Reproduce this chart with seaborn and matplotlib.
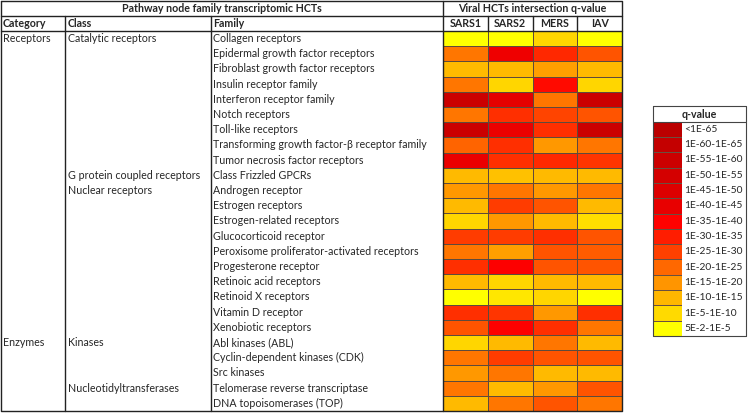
import matplotlib
matplotlib.use("Agg")
import matplotlib.pyplot as plt
import matplotlib.transforms as mtransforms
from matplotlib.colors import LinearSegmentedColormap
import seaborn as sns
import numpy as np
import pandas as pd

# table rows
families = [
    "Collagen receptors", "Epidermal growth factor receptors", "Fibroblast growth factor receptors",
    "Insulin receptor family", "Interferon receptor family", "Notch receptors", "Toll-like receptors",
    "Transforming growth factor-β receptor family", "Tumor necrosis factor receptors",
    "Class Frizzled GPCRs", "Androgen receptor", "Estrogen receptors", "Estrogen-related receptors",
    "Glucocorticoid receptor", "Peroxisome proliferator-activated receptors", "Progesterone receptor",
    "Retinoic acid receptors", "Retinoid X receptors", "Vitamin D receptor", "Xenobiotic receptors",
    "Abl kinases (ABL)", "Cyclin-dependent kinases (CDK)", "Src kinases",
    "Telomerase reverse transcriptase", "DNA topoisomerases (TOP)",
]
classes = (["Catalytic receptors"] * 9 + ["G protein coupled receptors"] + ["Nuclear receptors"] * 10
           + ["Kinases"] * 3 + ["Nucleotidyltransferases"] * 2)
categories = ["Receptors"] * 20 + ["Enzymes"] * 5

viruses = ["SARS1", "SARS2", "MERS", "IAV"]
# approx -log10(q)
sars1 = [3, 21, 12, 21, 58, 21, 58, 23, 42, 12, 17, 12, 8, 28, 21, 30, 12, 3, 30, 25, 8, 21, 17, 21, 12]
sars2 = [3, 41, 12, 8, 44, 30, 42, 30, 30, 11, 21, 28, 17, 28, 16, 38, 8, 6, 29, 38, 12, 28, 21, 12, 21]
mers = [8, 31, 16, 36, 21, 27, 30, 17, 31, 12, 17, 25, 12, 30, 25, 25, 12, 8, 17, 30, 21, 25, 12, 17, 25]
iav = [3, 25, 12, 8, 58, 25, 58, 21, 29, 12, 21, 12, 7, 25, 24, 25, 12, 3, 30, 21, 12, 25, 12, 25, 21]

legend_labels = ["<1E-65", "1E-60-1E-65", "1E-55-1E-60", "1E-50-1E-55", "1E-45-1E-50", "1E-40-1E-45",
                 "1E-35-1E-40", "1E-30-1E-35", "1E-25-1E-30", "1E-20-1E-25", "1E-15-1E-20",
                 "1E-10-1E-15", "1E-5-1E-10", "5E-2-1E-5"]
legend_mid = [67.5, 62.5, 57.5, 52.5, 47.5, 42.5, 37.5, 32.5, 27.5, 22.5, 17.5, 12.5, 7.5, 3]
legend_colors = ["#BB0000", "#C40000", "#CC0000", "#D40000", "#DD0000", "#E80000", "#FF0000",
                 "#FF1E00", "#FF4000", "#FF6800", "#FF9400", "#FFB600", "#FFD800", "#FFFF00"]

sns.set_theme(style="white")
plt.rcParams["font.family"] = ["Lato", "DejaVu Sans"]

vmin, vmax = min(legend_mid), max(legend_mid)
stops = [((m - vmin) / (vmax - vmin), c) for m, c in zip(legend_mid, legend_colors)][::-1]
cmap = LinearSegmentedColormap.from_list("qval", stops)

W, H = 750, 413
fig = plt.figure(figsize=(W / 100, H / 100), dpi=100)


def px_axes(x0, y0, x1, y1):
    return fig.add_axes([x0 / W, 1 - y1 / H, (x1 - x0) / W, (y1 - y0) / H])


df = pd.DataFrame({"SARS1": sars1, "SARS2": sars2, "MERS": mers, "IAV": iav}, index=families)
ax_h = px_axes(443, 31, 622, 411)
sns.heatmap(df, ax=ax_h, cmap=cmap, vmin=vmin, vmax=vmax, cbar=False, linewidths=0.6,
            linecolor="#5e4a3c", xticklabels=False, yticklabels=False)

ax_l = px_axes(653, 121.7, 682, 336)
sns.heatmap(pd.DataFrame({"q": legend_mid}, index=legend_labels), ax=ax_l, cmap=cmap, vmin=vmin, vmax=vmax,
            cbar=False, linewidths=0.6, linecolor="#6a5040", xticklabels=False, yticklabels=False)

ax_o = fig.add_axes([0, 0, 1, 1])
ax_o.set_xlim(0, W)
ax_o.set_ylim(H, 0)
ax_o.axis("off")
ax_o.patch.set_alpha(0)

lw = 1.0
lc = "#222222"
# table frame
ax_o.plot([1, 622, 622, 1, 1], [1, 1, 411, 411, 1], color=lc, lw=lw)
ax_o.plot([1, 622], [16, 16], color=lc, lw=lw)
ax_o.plot([1, 622], [31, 31], color=lc, lw=lw)
ax_o.plot([65, 65], [16, 411], color=lc, lw=lw)
ax_o.plot([211, 211], [16, 411], color=lc, lw=lw)
ax_o.plot([443, 443], [1, 411], color=lc, lw=lw)

fs = 7.7
ax_o.text(222, 8.5, "Pathway node family transcriptomic HCTs", ha="center", va="center", fontsize=fs, fontweight="bold")
ax_o.text(532.5, 8.5, "Viral HCTs intersection q-value", ha="center", va="center", fontsize=fs, fontweight="bold")
ax_o.text(3, 23.5, "Category", ha="left", va="center", fontsize=fs, fontweight="bold")
ax_o.text(68, 23.5, "Class", ha="left", va="center", fontsize=fs, fontweight="bold")
ax_o.text(213, 23.5, "Family", ha="left", va="center", fontsize=fs, fontweight="bold")

tcol = mtransforms.blended_transform_factory(ax_h.transData, ax_o.transData)
for j, v in enumerate(viruses):
    ax_o.text(j + 0.5, 23.5, v, transform=tcol, ha="center", va="center", fontsize=fs, fontweight="bold")
    if j > 0:
        ax_o.plot([j, j], [16, 31], transform=tcol, color=lc, lw=lw)

trow = mtransforms.blended_transform_factory(ax_o.transData, ax_h.transData)
for i, fam in enumerate(families):
    ax_o.text(213, i + 0.5, fam, transform=trow, ha="left", va="center", fontsize=fs)
    if i == 0 or classes[i] != classes[i - 1]:
        ax_o.text(68, i + 0.5, classes[i], transform=trow, ha="left", va="center", fontsize=fs)
    if i == 0 or categories[i] != categories[i - 1]:
        ax_o.text(3, i + 0.5, categories[i], transform=trow, ha="left", va="center", fontsize=fs)

# legend box
ax_o.plot([653, 746, 746, 653, 653], [106, 106, 336, 336, 106], color="#444444", lw=0.8)
ax_o.plot([653, 746], [121.7, 121.7], color="#444444", lw=0.8)
ax_o.text(699.5, 114, "q-value", ha="center", va="center", fontsize=fs, fontweight="bold")
tleg = mtransforms.blended_transform_factory(ax_o.transData, ax_l.transData)
for i, lab in enumerate(legend_labels):
    ax_o.text(684, i + 0.5, lab, transform=tleg, ha="left", va="center", fontsize=7.4)

fig.savefig("out.png", dpi=100)
